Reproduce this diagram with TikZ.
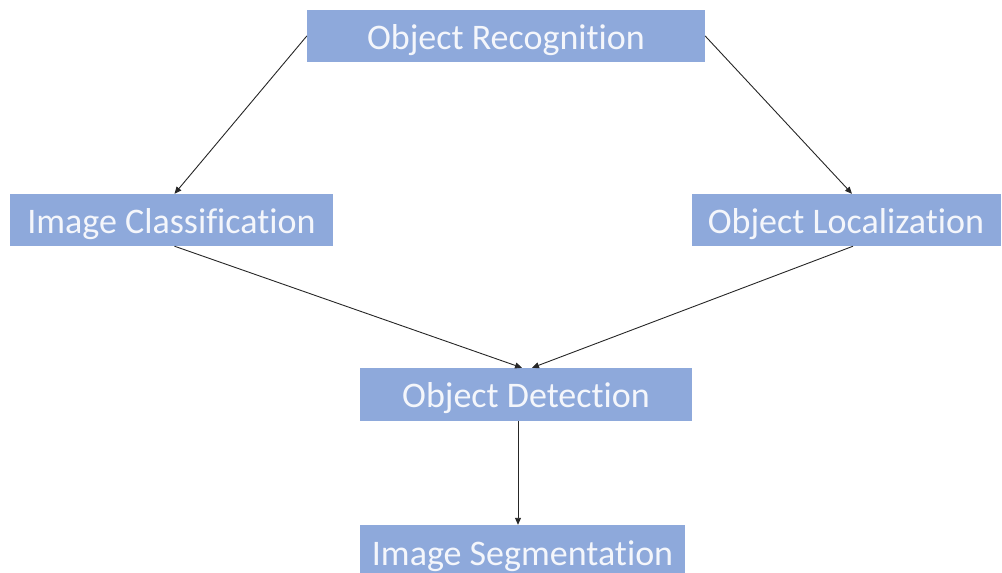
\documentclass[tikz,border=0pt]{standalone}
\usepackage{fontspec}
\setmainfont[Ligatures=NoCommon]{Carlito}
\usetikzlibrary{arrows.meta}
\definecolor{boxblue}{HTML}{8EA9DB}
\definecolor{txtwhite}{HTML}{F4F6FB}
\tikzset{
  stagebox/.style={fill=boxblue, draw=none, text=txtwhite, font=\fontsize{36}{40}\selectfont, inner sep=0pt, text height=34pt, text depth=8pt, anchor=center},
  link/.style={draw=black!85, line width=0.9pt, -{Triangle[length=7pt,width=6pt]}}
}
\begin{document}
\begin{tikzpicture}[x=1pt,y=-1pt]
\useasboundingbox (0,0) rectangle (1002,573);
\node[stagebox, minimum width=398pt, minimum height=52pt] (rec) at (506,36) {Object Recognition};
\node[stagebox, minimum width=323pt, minimum height=52pt] (cls) at (171.5,220) {Image Classification};
\node[stagebox, minimum width=309pt, minimum height=52pt] (loc) at (846,220) {Object Localization};
\node[stagebox, minimum width=332pt, minimum height=53pt] (det) at (526,394.5) {Object Detection};
\node[stagebox, minimum width=325pt, minimum height=54pt] (seg) at (522.5,552) {Image Segmentation};
\draw[link] (rec.west) -- ([xshift=3pt]cls.north);
\draw[link] (rec.east) -- ([xshift=6pt]loc.north);
\draw[link] ([xshift=3pt]cls.south) -- ([xshift=-4pt]det.north);
\draw[link] ([xshift=7pt]loc.south) -- ([xshift=6pt]det.north);
\draw[link] ([xshift=-8pt]det.south) -- ([xshift=-4.5pt]seg.north);
\end{tikzpicture}
\end{document}
